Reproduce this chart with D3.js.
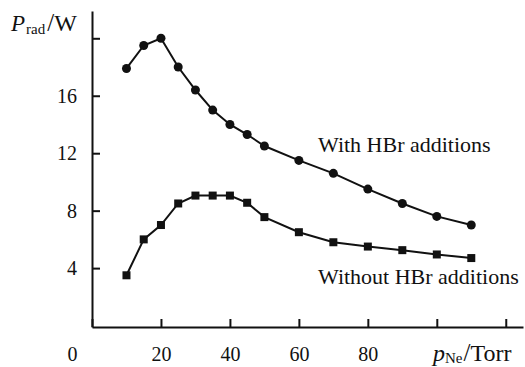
<!DOCTYPE html>
<html>
<head>
<meta charset="utf-8">
<script src="https://cdn.jsdelivr.net/npm/d3@7"></script>
<style>
  body { margin: 0; background: #fff; }
  .axis path, .axis line { stroke: #111; stroke-width: 2; }
</style>
</head>
<body>
<script>
// pressure, Torr
var pressure = [10, 15, 20, 25, 30, 35, 40, 45, 50, 60, 70, 80, 90, 100, 110];
// radiated power, W
var withHBr = [17.9, 19.5, 20.0, 18.0, 16.4, 15.0, 14.0, 13.3, 12.5, 11.5, 10.6, 9.5, 8.5, 7.6, 7.0];
var withoutHBr = [3.5, 6.0, 7.0, 8.5, 9.05, 9.05, 9.05, 8.55, 7.55, 6.5, 5.8, 5.5, 5.25, 4.95, 4.7];
var xTicks = [0, 20, 40, 60, 80, 100, 120];
var yTicks = [4, 8, 12, 16, 20];
var seriesLabels = ["With HBr additions", "Without HBr additions"];

var width = 525, height = 367;
var serif = "'Liberation Serif', 'Times New Roman', Times, serif";

var svg = d3.select("body").append("svg")
  .attr("width", width)
  .attr("height", height)
  .style("font-family", serif);

var x = d3.scaleLinear().domain([0, 125]).range([92, 523]);
var y = d3.scaleLinear().domain([-0.1, 21.9]).range([327, 11]);

// x axis, ticks pointing up, 100 and 120 left unlabeled
var gx = svg.append("g")
  .attr("class", "axis")
  .attr("transform", "translate(0," + y(-0.1) + ")")
  .call(d3.axisBottom(x)
    .tickValues(xTicks)
    .tickSizeInner(-8)
    .tickSizeOuter(0)
    .tickPadding(20)
    .tickFormat(function(d) { return d <= 80 ? d : ""; }));
gx.attr("font-family", null).attr("font-size", null);
gx.selectAll("text").style("font-family", serif).style("font-size", "20px").attr("fill", "#111");
gx.selectAll(".tick").filter(function(d) { return d === 0; })
  .select("text").attr("dx", -20);

// y axis, ticks pointing right, 20 left unlabeled
var gy = svg.append("g")
  .attr("class", "axis")
  .attr("transform", "translate(" + x(0) + ",0)")
  .call(d3.axisLeft(y)
    .tickValues(yTicks)
    .tickSizeInner(-8)
    .tickSizeOuter(0)
    .tickPadding(15)
    .tickFormat(function(d) { return d < 20 ? d : ""; }));
gy.attr("font-family", null).attr("font-size", null);
gy.selectAll("text").style("font-family", serif).style("font-size", "20px").attr("fill", "#111");

// axis titles
var yt = svg.append("text").attr("x", 11).attr("y", 31).style("font-size", "23px").attr("fill", "#111");
yt.append("tspan").attr("font-style", "italic").text("P");
yt.append("tspan").style("font-size", "15px").attr("dy", 3).attr("dx", 1).text("rad");
yt.append("tspan").style("font-size", "25px").attr("dy", -3).attr("dx", 2).text("/");
yt.append("tspan").style("font-size", "24px").text("W");

var xt = svg.append("text").attr("x", 433).attr("y", 361).style("font-size", "24px").attr("fill", "#111");
xt.append("tspan").attr("font-style", "italic").text("p");
xt.append("tspan").style("font-size", "15px").attr("dy", 2).text("Ne");
xt.append("tspan").style("font-size", "25px").attr("dy", -2).attr("dx", 1).text("/");
xt.append("tspan").text("Torr");

var line = d3.line()
  .x(function(d) { return x(d[0]); })
  .y(function(d) { return y(d[1]); });

var dataWith = d3.zip(pressure, withHBr);
var dataWithout = d3.zip(pressure, withoutHBr);

svg.append("path").datum(dataWith)
  .attr("d", line).attr("fill", "none").attr("stroke", "#111").attr("stroke-width", 2);
svg.append("path").datum(dataWithout)
  .attr("d", line).attr("fill", "none").attr("stroke", "#111").attr("stroke-width", 2);

svg.selectAll(".dot").data(dataWith).enter().append("circle")
  .attr("cx", function(d) { return x(d[0]); })
  .attr("cy", function(d) { return y(d[1]); })
  .attr("r", 4.5).attr("fill", "#111");

svg.selectAll(".sq").data(dataWithout).enter().append("rect")
  .attr("x", function(d) { return x(d[0]) - 4; })
  .attr("y", function(d) { return y(d[1]) - 4; })
  .attr("width", 8).attr("height", 8).attr("fill", "#111");

// series labels
svg.append("text").attr("x", 318).attr("y", 152).style("font-size", "22px").attr("fill", "#111").text(seriesLabels[0]);
svg.append("text").attr("x", 318).attr("y", 284).style("font-size", "22px").attr("fill", "#111").text(seriesLabels[1]);
</script>
</body>
</html>
